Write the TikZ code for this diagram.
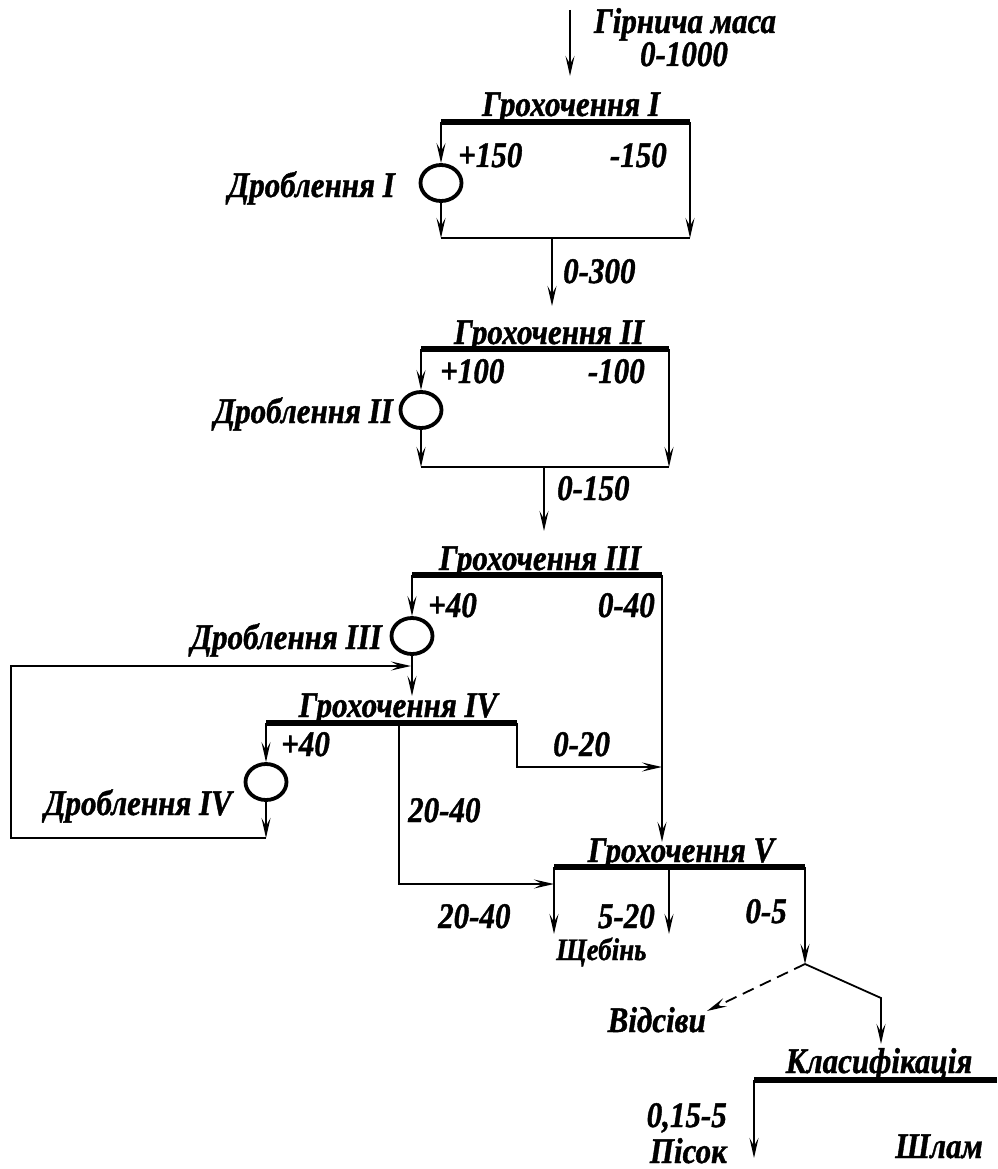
\documentclass[tikz,border=0pt]{standalone}
\usepackage{fontspec}
\usepackage{graphicx}
\setmainfont{Liberation Serif}[BoldItalicFeatures={FakeBold=1.2}]
\usetikzlibrary{arrows.meta,shapes.geometric}
\newcommand{\tx}[1]{\scalebox{1}[1.16]{#1}}
\tikzset{
  ln/.style={line width=1.8pt},
  arr/.style={ln,-{Stealth[length=20pt,width=9pt,inset=8pt]}},
  darr/.style={arr,dash pattern=on 12pt off 7pt},
  barline/.style={line width=6pt},
  crusher/.style={draw,ellipse,line width=3.8pt,minimum width=41pt,minimum height=36pt,inner sep=0pt},
  lbl/.style={inner sep=0pt,font=\fontsize{31}{31}\selectfont\bfseries\itshape},
  slbl/.style={inner sep=0pt,font=\fontsize{27}{27}\selectfont\bfseries\itshape},
}
\begin{document}
\begin{tikzpicture}[x=1pt,y=-1pt]
\useasboundingbox (0,0) rectangle (997,1169);
% ---------- input
\coordinate (in0) at (570,10);
\coordinate (in1) at (570,76);
\draw[arr] (in0) -- (in1);
\node[lbl,anchor=base] (tin) at (685,33) {\tx{Гірнича маса}};
\node[lbl,anchor=base] (tin2) at (684,66) {\tx{0-1000}};
% ---------- stage I
\coordinate (g1L) at (441,122);
\coordinate (g1R) at (690,122);
\coordinate (j1L) at (441,238);
\coordinate (j1R) at (690,238);
\coordinate (j1M) at (552,238);
\coordinate (o1) at (552,306);
\node[crusher] (d1) at (441,183) {};
\draw[barline] (g1L) -- (g1R);
\node[lbl,anchor=base] (tg1) at (571,116) {\tx{Грохочення I}};
\draw[arr] (g1L) -- (d1.north);
\draw[arr] (d1.south) -- (j1L);
\draw[arr] (g1R) -- (j1R);
\draw[ln] (j1L) -- (j1R);
\draw[arr] (j1M) -- (o1);
\node[lbl,anchor=base west] (p150) at (458,167) {\tx{+150}};
\node[lbl,anchor=base east] (m150) at (667,167) {\tx{-150}};
\node[lbl,anchor=base east] (td1) at (395,197) {\tx{Дроблення I}};
\node[lbl,anchor=base west] (t300) at (563,283) {\tx{0-300}};
% ---------- stage II
\coordinate (g2L) at (421,349);
\coordinate (g2R) at (669,349);
\coordinate (j2L) at (421,467);
\coordinate (j2R) at (669,467);
\coordinate (j2M) at (544,467);
\coordinate (o2) at (544,531);
\node[crusher] (d2) at (421,410) {};
\draw[barline] (g2L) -- (g2R);
\node[lbl,anchor=base] (tg2) at (549,344) {\tx{Грохочення II}};
\draw[arr] (g2L) -- (d2.north);
\draw[arr] (d2.south) -- (j2L);
\draw[arr] (g2R) -- (j2R);
\draw[ln] (j2L) -- (j2R);
\draw[arr] (j2M) -- (o2);
\node[lbl,anchor=base west] (p100) at (440,383) {\tx{+100}};
\node[lbl,anchor=base east] (m100) at (645,383) {\tx{-100}};
\node[lbl,anchor=base east] (td2) at (393,423) {\tx{Дроблення II}};
\node[lbl,anchor=base west] (t150) at (557,500) {\tx{0-150}};
% ---------- stage III
\coordinate (g3L) at (412,575);
\coordinate (g3R) at (662,575);
\coordinate (g3o) at (662,842);
\coordinate (d3o) at (412,696);
\node[crusher] (d3) at (412,636) {};
\draw[barline] (g3L) -- (g3R);
\node[lbl,anchor=base] (tg3) at (540,570) {\tx{Грохочення III}};
\draw[arr] (g3L) -- (d3.north);
\draw[arr] (d3.south) -- (d3o);
\draw[arr] (g3R) -- (g3o);
\node[lbl,anchor=base west] (p40a) at (428,617) {\tx{+40}};
\node[lbl,anchor=base east] (t040) at (655,617) {\tx{0-40}};
\node[lbl,anchor=base east] (td3) at (382,649) {\tx{Дроблення III}};
% ---------- stage IV
\coordinate (g4L) at (266,723);
\coordinate (g4R) at (517,723);
\coordinate (g4M) at (399,723);
\coordinate (g4Mb) at (399,884);
\coordinate (g4Rb) at (517,767);
\coordinate (g4Re) at (662,767);
\coordinate (r1) at (266,838);
\coordinate (r2) at (11,838);
\coordinate (r3) at (11,666);
\coordinate (r4) at (411,666);
\node[crusher] (d4) at (266,782) {};
\draw[barline] (g4L) -- (g4R);
\node[lbl,anchor=base] (tg4) at (398,717) {\tx{Грохочення IV}};
\draw[arr] (g4L) -- (d4.north);
\draw[arr] (d4.south) -- (r1);
\draw[arr] (r1) -- (r2) -- (r3) -- (r4);
\draw[arr] (g4R) -- (g4Rb) -- (g4Re);
\node[lbl,anchor=base west] (p40b) at (281,756) {\tx{+40}};
\node[lbl,anchor=base west] (t020) at (553,756) {\tx{0-20}};
\node[lbl,anchor=base east] (td4) at (232,815) {\tx{Дроблення IV}};
\node[lbl,anchor=base west] (t2040a) at (408,822) {\tx{20-40}};
% ---------- stage V
\coordinate (g5L) at (554,867);
\coordinate (g5R) at (805,867);
\coordinate (g5M) at (669,867);
\coordinate (o5L) at (554,934);
\coordinate (o5M) at (669,934);
\coordinate (br) at (805,964);
\coordinate (vid) at (707,1011);
\coordinate (kl1) at (881,998);
\coordinate (kl2) at (881,1044);
\draw[arr] (g4M) -- (g4Mb) -- (g5L |- g4Mb);
\draw[barline] (g5L) -- (g5R);
\node[lbl,anchor=base] (tg5) at (681,862) {\tx{Грохочення V}};
\draw[arr] (g5L) -- (o5L);
\draw[arr] (g5M) -- (o5M);
\draw[arr] (g5R) -- (br);
\draw[darr] (br) -- (vid);
\draw[arr] (br) -- (kl1) -- (kl2);
\node[lbl,anchor=base west] (t2040b) at (438,928) {\tx{20-40}};
\node[lbl,anchor=base east] (t520) at (655,928) {\tx{5-20}};
\node[lbl,anchor=base east] (t05) at (787,923) {\tx{0-5}};
\node[slbl,anchor=base west] (tsch) at (556,960) {\tx{Щебінь}};
\node[lbl,anchor=base east] (tvid) at (706,1032) {\tx{Відсіви}};
% ---------- classification
\coordinate (kL) at (754,1080);
\coordinate (kR) at (997,1080);
\coordinate (kLo) at (754,1158);
\draw[barline] (kL) -- (kR);
\node[lbl,anchor=base] (tkl) at (879,1073) {\tx{Класифікація}};
\draw[arr] (kL) -- (kLo);
\node[lbl,anchor=base east] (t015) at (727,1127) {\tx{0,15-5}};
\node[lbl,anchor=base east] (tpis) at (727,1163) {\tx{Пісок}};
\node[lbl,anchor=base east] (tshl) at (983,1158) {\tx{Шлам}};
\end{tikzpicture}
\end{document}
